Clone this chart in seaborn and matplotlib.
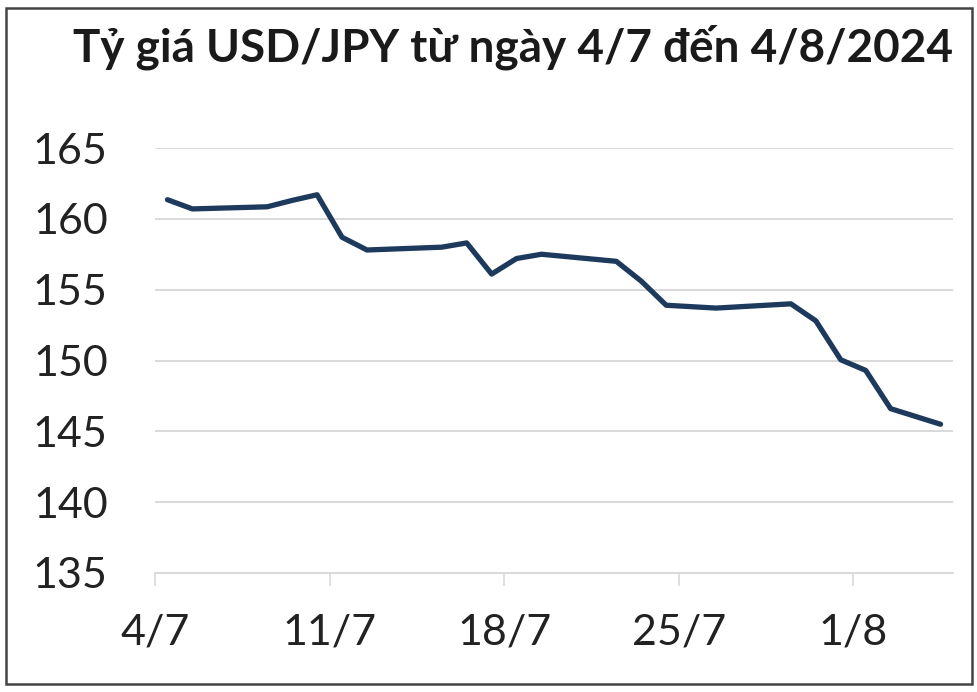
"""
Tỷ giá USD/JPY từ 4/7 đến 4/8/2024
"""

import matplotlib
matplotlib.use("Agg")
import matplotlib.pyplot as plt
import matplotlib.patches as patches
import seaborn as sns
import pandas as pd

# Dữ liệu
dates = ["2024-07-04", "2024-07-05", "2024-07-08", "2024-07-09", "2024-07-10",
         "2024-07-11", "2024-07-12", "2024-07-15", "2024-07-16", "2024-07-17",
         "2024-07-18", "2024-07-19", "2024-07-22", "2024-07-23", "2024-07-24",
         "2024-07-25", "2024-07-26", "2024-07-29", "2024-07-30", "2024-07-31",
         "2024-08-01", "2024-08-02", "2024-08-04"]
usd_jpy = [161.35, 160.7, 160.85, 161.3, 161.7,
           158.7, 157.8, 158.0, 158.3, 156.1,
           157.2, 157.5, 157.0, 155.6, 153.9,
           153.8, 153.7, 154.0, 152.8, 150.05,
           149.3, 146.6, 145.5]

tick_dates = ["2024-07-04", "2024-07-11", "2024-07-18", "2024-07-25", "2024-08-01"]
tick_labels = ["4/7", "11/7", "18/7", "25/7", "1/8"]
y_ticks = [135, 140, 145, 150, 155, 160, 165]

title = "Tỷ giá USD/JPY từ ngày 4/7 đến 4/8/2024"

sns.set_theme(style="white")
plt.rcParams['font.family'] = ['Lato', 'DejaVu Sans']

fig = plt.figure(figsize=(9.78, 6.92), dpi=100)
ax = fig.add_axes([155 / 978, 1 - 573 / 692, (953 - 155) / 978, (573 - 148) / 692])

# Excel đặt điểm ở giữa ô ngày
df = pd.DataFrame({'date': pd.to_datetime(dates) + pd.Timedelta(hours=12),
                   'rate': usd_jpy})
sns.lineplot(data=df, x='date', y='rate', ax=ax, color='#1d3a5c', linewidth=3.8)

ax.set_xlim(pd.Timestamp("2024-07-04"), pd.Timestamp("2024-08-05"))
ax.set_ylim(135, 165)
ax.set_yticks(y_ticks)
ax.set_yticklabels([str(v) for v in y_ticks])
ax.set_xticks(pd.to_datetime(tick_dates))
ax.set_xticklabels(tick_labels)
ax.set_xlabel('')
ax.set_ylabel('')

ax.grid(True, axis='y', color='#d9d9d9', linewidth=1.4)
ax.grid(False, axis='x')
for side in ['top', 'right', 'left']:
    ax.spines[side].set_visible(False)
ax.spines['bottom'].set_color('#d9d9d9')
ax.spines['bottom'].set_linewidth(1.4)

ax.tick_params(axis='y', length=0, pad=34, labelsize=31, labelcolor='#222222')
ax.tick_params(axis='x', bottom=True, length=9, width=1.2, color='#d9d9d9',
               pad=20, labelsize=31, labelcolor='#222222')

fig.text(953 / 978, 1 - 61 / 692, title, ha='right', va='baseline',
         fontsize=33, fontweight='bold', color='#1a1a1a')

# Khung viền
fig.patches.append(patches.Rectangle((6 / 978, 8 / 692), 966 / 978, 676 / 692,
                                     transform=fig.transFigure, fill=False,
                                     edgecolor='#444444', linewidth=1.8))

fig.savefig('out.png', dpi=100)
